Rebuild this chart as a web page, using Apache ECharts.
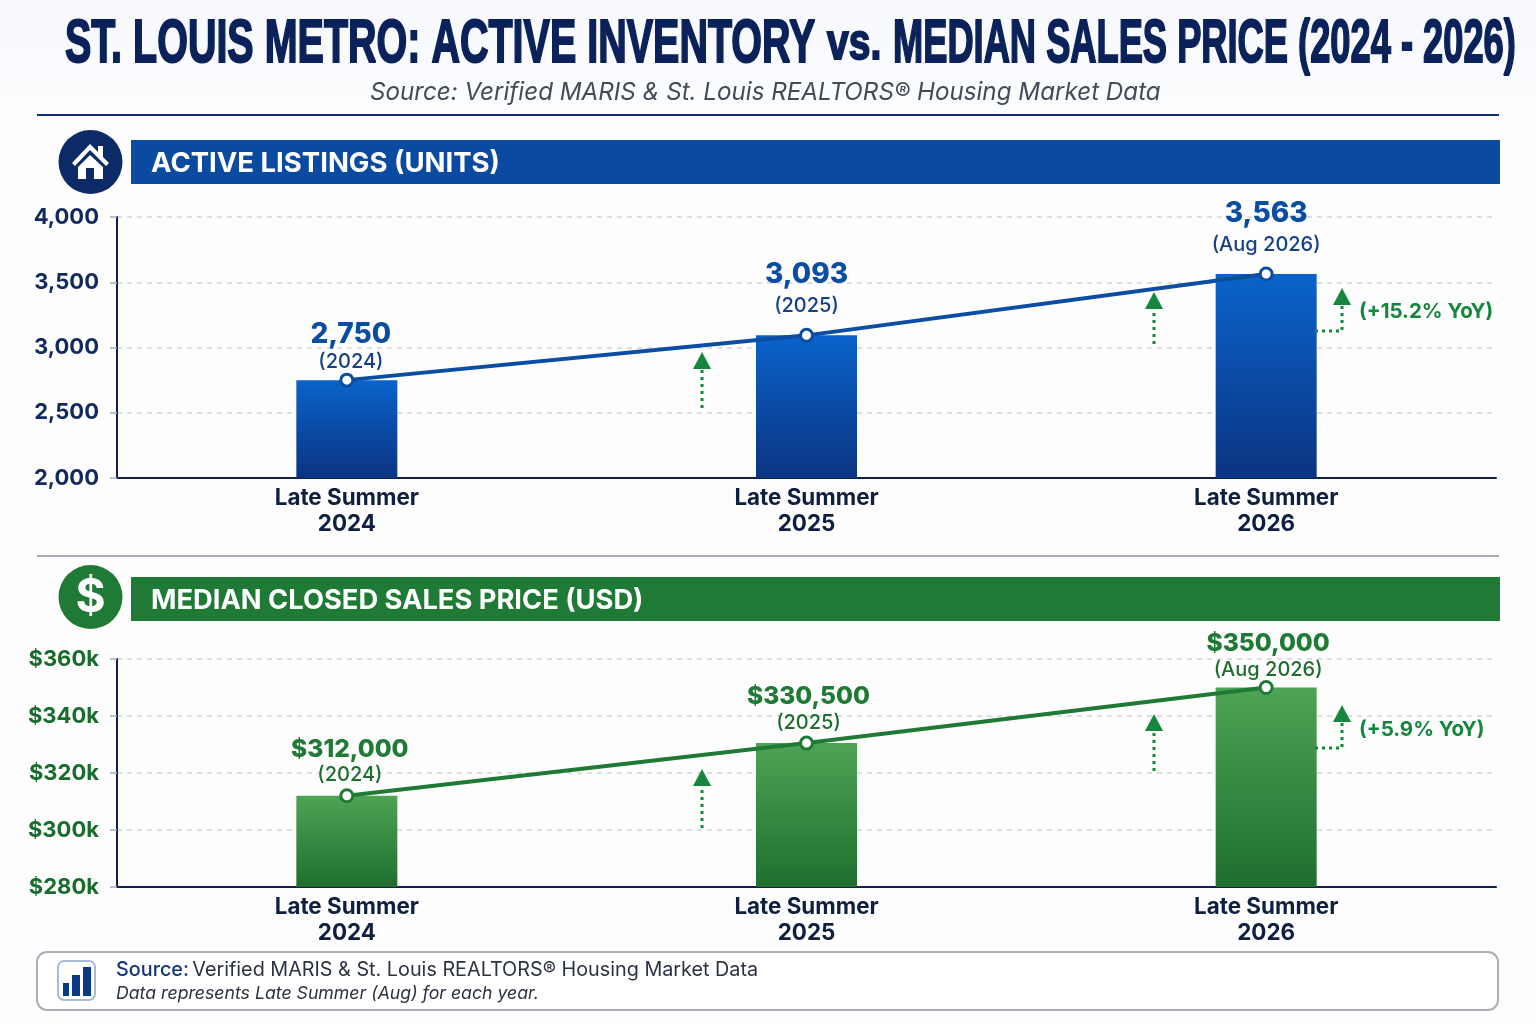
<!DOCTYPE html>
<html><head><meta charset="utf-8">
<style>html,body{margin:0;padding:0;background:#fff}#c{width:1536px;height:1024px}</style>
<script src="https://cdn.jsdelivr.net/npm/echarts@6/dist/echarts.min.js"></script>
</head><body><div id="c"></div>
<script>
const categories = ['Late Summer\n2024', 'Late Summer\n2025', 'Late Summer\n2026'];
const periodLabels = ['(2024)', '(2025)', '(Aug 2026)'];
const activeListings = [2750, 3093, 3563];
const medianPrice = [312000, 330500, 350000];
const listingTicks = [2000, 4000, 500];
const priceTicks = [280000, 360000, 20000];

const FONT = 'Inter, "Noto Sans", sans-serif';
const NAVY = '#0b2a66', BLUE = '#0b4da2', GREEN = '#1f7a35', ARROW = '#14873d';
const chart = echarts.init(document.getElementById('c'), null, {renderer: 'canvas', width: 1536, height: 1024});

function vGrad(a, b) { return new echarts.graphic.LinearGradient(0, 0, 0, 1, [{offset: 0, color: a}, {offset: 1, color: b}]); }
function dotted(points) {
  return {type: 'polyline', z: 20, shape: {points}, style: {fill: null, stroke: ARROW, lineWidth: 3, lineDash: [3, 4]}};
}
function head(x, tip) {
  return {type: 'polygon', z: 20, shape: {points: [[x, tip], [x - 9, tip + 17], [x + 9, tip + 17]]}, style: {fill: ARROW}};
}
function text(x, y, t, font, fill, extra) {
  return {type: 'text', z: 20, x, y, style: Object.assign({text: t, font, fill, textAlign: 'left', textVerticalAlign: 'middle'}, extra || {})};
}
function titlePart(x, scaleX, t, size) {
  return {type: 'text', z: 20, x, y: 45, scaleX, scaleY: 1, style: {
    text: t, font: 'bold ' + size + 'px "Liberation Sans", sans-serif', fill: '#0a2259',
    stroke: '#0a2259', lineWidth: 2, textAlign: 'left', textVerticalAlign: 'middle'
  }};
}

const graphic = [
  {type: 'rect', z: 0, shape: {x: 0, y: 0, width: 1536, height: 115}, style: {fill: vGrad('#f6f8fd', '#fcfdfe')}},
  titlePart(65, 0.637, 'ST. LOUIS METRO: ACTIVE INVENTORY', 62),
  titlePart(827, 0.75, 'vs.', 52),
  titlePart(893, 0.585, 'MEDIAN SALES PRICE (2024 - 2026)', 62),
  text(370, 93, 'Source: Verified MARIS & St. Louis REALTORS® Housing Market Data', 'italic 400 24.2px ' + FONT, '#444b57'),
  {type: 'line', z: 5, shape: {x1: 37, y1: 115, x2: 1499, y2: 115}, style: {stroke: '#0f2f72', lineWidth: 2}},
  {type: 'line', z: 5, shape: {x1: 37, y1: 556, x2: 1499, y2: 556}, style: {stroke: '#a9aeb6', lineWidth: 2}},

  {type: 'rect', z: 5, shape: {x: 131, y: 140, width: 1369, height: 44}, style: {fill: '#0a4aa0'}},
  {type: 'circle', z: 5, shape: {cx: 90.5, cy: 162, r: 32}, style: {fill: NAVY}},
  {type: 'polygon', z: 6, shape: {points: [[72, 163], [90, 144], [98, 152], [98, 146], [103, 146], [103, 157], [109, 163], [106, 166], [90, 150], [75, 166]]}, style: {fill: '#fff'}},
  {type: 'polygon', z: 6, shape: {points: [[78, 167], [90, 155], [103, 167], [103, 179], [94, 179], [94, 168], [86, 168], [86, 179], [78, 179]]}, style: {fill: '#fff'}},
  text(151, 164, 'ACTIVE LISTINGS (UNITS)', '700 27.5px ' + FONT, '#fff'),

  {type: 'rect', z: 5, shape: {x: 131, y: 577, width: 1369, height: 44}, style: {fill: GREEN}},
  {type: 'circle', z: 5, shape: {cx: 90.5, cy: 597, r: 32}, style: {fill: GREEN}},
  {type: 'text', z: 6, x: 90.5, y: 598, style: {text: '$', font: 'bold 46px ' + FONT, fill: '#fff', textAlign: 'center', textVerticalAlign: 'middle'}},
  text(151, 601, 'MEDIAN CLOSED SALES PRICE (USD)', '700 27.3px ' + FONT, '#fff'),

  dotted([[702, 408], [702, 368]]), head(702, 352),
  dotted([[1154, 344], [1154, 308]]), head(1154, 292),
  dotted([[1315, 331], [1342, 331], [1342, 304]]), head(1342, 288),
  text(1359, 312, '(+15.2% YoY)', '700 20.5px ' + FONT, ARROW),

  dotted([[702, 828], [702, 785]]), head(702, 769),
  dotted([[1154, 771], [1154, 730]]), head(1154, 714),
  dotted([[1315, 748], [1342, 748], [1342, 721]]), head(1342, 705),
  text(1359, 730, '(+5.9% YoY)', '700 20.5px ' + FONT, ARROW),

  {type: 'rect', z: 5, shape: {x: 37, y: 952, width: 1461, height: 58, r: 10}, style: {fill: '#fff', stroke: '#a9afb9', lineWidth: 2}},
  {type: 'rect', z: 6, shape: {x: 58, y: 961, width: 37, height: 39, r: 6}, style: {fill: '#fff', stroke: '#a8bbdc', lineWidth: 2}},
  {type: 'rect', z: 7, shape: {x: 63, y: 983, width: 6, height: 13}, style: {fill: '#0b3a85'}},
  {type: 'rect', z: 7, shape: {x: 72, y: 975, width: 8, height: 21}, style: {fill: '#0b3a85'}},
  {type: 'rect', z: 7, shape: {x: 83, y: 967, width: 8, height: 29}, style: {fill: '#0b3a85'}},
  {type: 'text', z: 20, x: 116, y: 970, style: {
    text: '{a|Source:} {b|Verified MARIS & St. Louis REALTORS® Housing Market Data}', textVerticalAlign: 'middle', textAlign: 'left',
    rich: {a: {font: '500 19.8px ' + FONT, fill: '#12357f'}, b: {font: '400 19.8px ' + FONT, fill: '#2b3240'}}
  }},
  text(116, 993.5, 'Data represents Late Summer (Aug) for each year.', 'italic 400 17.7px ' + FONT, '#2b3240')
];

function yAxis(idx, ticks, color, fmt) {
  return {
    type: 'value', gridIndex: idx, min: ticks[0], max: ticks[1], interval: ticks[2],
    axisLine: {show: true, lineStyle: {color: '#10204a', width: 2}},
    axisTick: {show: true, length: 7, lineStyle: {color: '#a9aeb6', width: 1.5}},
    axisLabel: {color, fontFamily: FONT, fontWeight: 700, fontSize: 22, margin: 18, formatter: fmt},
    splitLine: {show: true, lineStyle: {color: '#d2d4d7', type: [5, 5], width: 1.5}}
  };
}
function xAxis(idx) {
  return {
    type: 'category', gridIndex: idx, data: categories,
    axisLine: {show: true, lineStyle: {color: '#10204a', width: 2}},
    axisTick: {show: false},
    axisLabel: {color: '#0e1f3f', fontFamily: FONT, fontWeight: 700, fontSize: 22.4, lineHeight: 26, margin: 7}
  };
}
function barSeries(idx, data, a, b) {
  return {type: 'bar', xAxisIndex: idx, yAxisIndex: idx, data, barWidth: 101, z: 2, itemStyle: {color: vGrad(a, b)}, silent: true};
}
function richFor(color, subColor, vSize, vLine, sLine) {
  return {
    v: {color, fontFamily: FONT, fontWeight: 800, fontSize: vSize, lineHeight: vLine, align: 'center'},
    s: {color: subColor, fontFamily: FONT, fontWeight: 500, fontSize: 20, lineHeight: sLine, align: 'center'}
  };
}
function lineSeries(idx, data, color, fmt, labelFor) {
  return {
    type: 'line', xAxisIndex: idx, yAxisIndex: idx, z: 5, silent: true,
    data: data.map((value, i) => ({value, label: labelFor(i)})),
    symbol: 'circle', symbolSize: 12, showAllSymbol: true,
    lineStyle: {color, width: 4},
    itemStyle: {color: '#fff', borderColor: color, borderWidth: 3},
    label: {
      show: true, position: 'top',
      formatter: p => '{v|' + fmt(p.value) + '}\n{s|' + periodLabels[p.dataIndex] + '}'
    }
  };
}
const usd = v => '$' + v.toLocaleString('en-US');
const units = v => v.toLocaleString('en-US');
const kUsd = v => '$' + (v / 1000) + 'k';
const listingLabel = i => i === 0
  ? {distance: 2, offset: [4, 4], rich: richFor(BLUE, '#173f85', 28, 28, 26)}
  : {distance: 9, rich: richFor(BLUE, '#173f85', 28, 36, 26)};
const priceLabel = i => ({distance: 4, offset: [i === 0 ? 3 : 2, i === 2 ? 6 : 3], rich: richFor(GREEN, '#1f6e2f', 24.5, 28, 24)});

chart.setOption({
  animation: false,
  backgroundColor: '#fdfdfe',
  graphic: {elements: graphic},
  grid: [
    {left: 117, right: 40, top: 217, height: 261},
    {left: 117, right: 40, top: 659, height: 228}
  ],
  xAxis: [xAxis(0), xAxis(1)],
  yAxis: [yAxis(0, listingTicks, '#10295e', units), yAxis(1, priceTicks, '#186c2c', kUsd)],
  series: [
    barSeries(0, activeListings, '#0a63cb', '#0b3481'),
    lineSeries(0, activeListings, BLUE, units, listingLabel),
    barSeries(1, medianPrice, '#4ea354', '#1f6e2f'),
    lineSeries(1, medianPrice, GREEN, usd, priceLabel)
  ]
});
</script></body></html>
